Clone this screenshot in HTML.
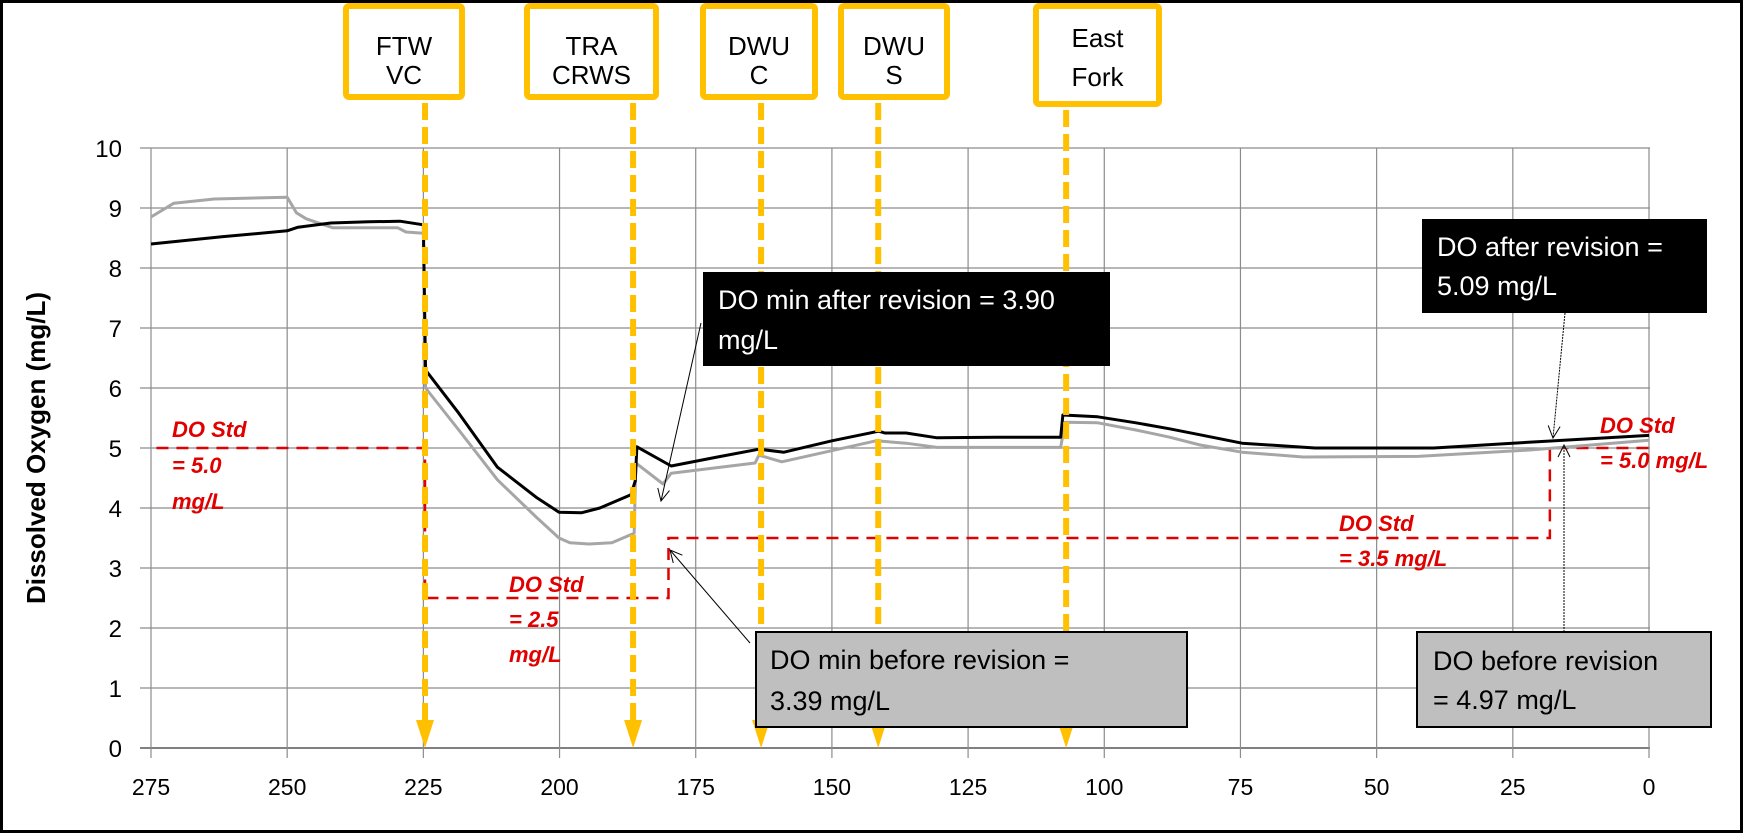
<!DOCTYPE html>
<html><head><meta charset="utf-8"><style>
html,body{margin:0;padding:0;background:#fff;}
svg{display:block;font-family:"Liberation Sans",Arial,sans-serif;}
</style></head><body>
<svg id="chart" width="1751" height="834" xmlns="http://www.w3.org/2000/svg">
<rect x="1.5" y="1.5" width="1740" height="830" fill="#fff" stroke="#000" stroke-width="3"/>
<g id="grid"></g>
<g id="std"></g>
<g id="series"></g>
<g id="stations"></g>
<g id="annot"></g>
<text x="0" y="0" transform="translate(45,448) rotate(-90)" text-anchor="middle" font-size="26" font-weight="bold">Dissolved Oxygen (mg/L)</text>
</svg>
<script>
const xTicks=[275,250,225,200,175,150,125,100,75,50,25,0];
const yTicks=[0,1,2,3,4,5,6,7,8,9,10];
const afterDist=[275,262,250,248,242,235,229.3,225,224.6,218.5,211.4,204.3,200.1,196,192.6,186.9,186.1,185.8,179.5,171,163.4,158.8,150,141.4,140.3,136.4,130.7,120,108,107.6,101.2,94.2,88,82.4,74.7,61.3,39.5,21.3,0];
const afterDO=[8.40,8.52,8.62,8.68,8.75,8.77,8.78,8.72,6.30,5.58,4.68,4.18,3.93,3.92,4.0,4.22,4.45,5.02,4.70,4.85,4.98,4.93,5.12,5.28,5.25,5.25,5.17,5.18,5.18,5.55,5.52,5.42,5.32,5.22,5.08,5.0,5.0,5.1,5.21];
const beforeDist=[275,270.8,263.4,250,248.3,246.5,241.6,229.7,228.2,225,224.6,218.5,211.4,204.3,200.1,198.1,194.6,190.4,186.3,186.0,181,179.5,164.1,163.4,159.2,141.9,136.4,130.7,108,107.2,101.2,94.2,88,82.4,74.7,63.5,42.4,21.3,0];
const beforeDO=[8.85,9.08,9.15,9.18,8.92,8.82,8.67,8.67,8.60,8.58,6.0,5.3,4.47,3.85,3.5,3.42,3.4,3.42,3.58,4.75,4.4,4.58,4.75,4.88,4.77,5.12,5.08,5.01,5.01,5.43,5.42,5.30,5.18,5.05,4.93,4.85,4.86,4.97,5.13];
const stdDist=[274,224.7,224.7,180,180,18.2,18.2,0];
const stdDO=[5.0,5.0,2.5,2.5,3.5,3.5,5.0,5.0];
const stationNames=[["FTW","VC"],["TRA","CRWS"],["DWU","C"],["DWU","S"],["East","Fork"]];
const stationDist=[224.7,186.5,163,141.5,107];

const NS="http://www.w3.org/2000/svg";
const X0=1649,XS=1498/275,Y0=748,YS=60;
const xs=v=>X0-v*XS, ys=v=>Y0-v*YS;
function mk(tag,attrs,parent,txt){const e=document.createElementNS(NS,tag);for(const k in attrs)e.setAttribute(k,attrs[k]);if(txt!==undefined)e.textContent=txt;parent.appendChild(e);return e;}
const grid=document.getElementById('grid');
yTicks.forEach(t=>{
  const l=mk('line',{x1:140,x2:1650,y1:ys(t),y2:ys(t),stroke:t===0?'#808080':'#8c8c8c','stroke-width':t===0?2:1.2},grid);
  
  
  const tx=mk('text',{x:122,y:ys(t)+9,'text-anchor':'end','font-size':24},grid,String(t));
  
  
});
xTicks.forEach(t=>{
  const l=mk('line',{x1:xs(t),x2:xs(t),y1:ys(10),y2:758,stroke:'#8c8c8c','stroke-width':1.2},grid);
  
  
  const tx=mk('text',{x:xs(t),y:795,'text-anchor':'middle','font-size':23},grid,String(t));
  
  
});
// standards
const stdG=document.getElementById('std');
const sp=mk('polyline',{points:stdDist.map((d,i)=>xs(d)+','+ys(stdDO[i])).join(' '),fill:'none',stroke:'#e00000','stroke-width':2.5,'stroke-dasharray':'12 8'},stdG);


// series
const sg=document.getElementById('series');
const pb=mk('polyline',{points:beforeDist.map((d,i)=>xs(d)+','+ys(beforeDO[i])).join(' '),fill:'none',stroke:'#a6a6a6','stroke-width':3,'stroke-linejoin':'round'},sg);


const pa=mk('polyline',{points:afterDist.map((d,i)=>xs(d)+','+ys(afterDO[i])).join(' '),fill:'none',stroke:'#000','stroke-width':3,'stroke-linejoin':'round'},sg);


// stations
const stG=document.getElementById('stations');
const boxes=[[343,465,100],[524,659,100],[700,818,100],[838,950,100],[1033,1162,107]];
stationDist.forEach((d,i)=>{
  const x=xs(d),b=boxes[i];
  const ln=mk('line',{x1:x,x2:x,y1:b[2]+3,y2:724,stroke:'#ffc000','stroke-width':6,'stroke-dasharray':'17 7'},stG);
  
  
  const ar=mk('polygon',{points:(x-9)+',720 '+(x+9)+',720 '+x+',748',fill:'#ffc000'},stG);
  
  
  const r=mk('rect',{x:b[0]+3,y:6,width:b[1]-b[0]-6,height:b[2]-9,rx:3,fill:'#fff',stroke:'#ffc000','stroke-width':6},stG);
  
  
  const cx=(b[0]+b[1])/2;
  const y1=i===4?47:55,y2=i===4?86:84;
  const t1=mk('text',{x:cx,y:y1,'text-anchor':'middle','font-size':26},stG,stationNames[i][0]);
  
  
  const t2=mk('text',{x:cx,y:y2,'text-anchor':'middle','font-size':26},stG,stationNames[i][1]);
  
  
});
</script>
<svg style="position:absolute;left:0;top:0" width="1751" height="834" xmlns="http://www.w3.org/2000/svg" font-family="Liberation Sans, Arial, sans-serif">
<defs><marker id="ah" markerWidth="14" markerHeight="14" refX="13" refY="7" orient="auto" markerUnits="userSpaceOnUse"><path d="M1,1 L13,7 L1,13" fill="none" stroke="#000" stroke-width="1"/></marker></defs>
<g fill="#e00000" font-weight="bold" font-style="italic" font-size="22">
<text><tspan x="172" y="437">DO Std</tspan><tspan x="172" y="473">= 5.0</tspan><tspan x="172" y="509">mg/L</tspan></text>
<text><tspan x="509" y="592">DO Std</tspan><tspan x="509" y="627">= 2.5</tspan><tspan x="509" y="662">mg/L</tspan></text>
<text><tspan x="1339" y="531">DO Std</tspan><tspan x="1339" y="566">= 3.5 mg/L</tspan></text>
<text><tspan x="1600" y="433">DO Std</tspan><tspan x="1600" y="468">= 5.0 mg/L</tspan></text>
</g>
<line x1="701" y1="323" x2="661" y2="501" stroke="#000" stroke-width="1" marker-end="url(#ah)"/>
<line x1="750" y1="643" x2="670" y2="550" stroke="#000" stroke-width="1" marker-end="url(#ah)"/>
<line x1="1565" y1="313" x2="1553" y2="438" stroke="#000" stroke-width="1" stroke-dasharray="2 1" marker-end="url(#ah)"/>
<line x1="1564" y1="632" x2="1564" y2="445" stroke="#000" stroke-width="1" stroke-dasharray="2 1" marker-end="url(#ah)"/>
<g>
<rect x="703" y="272" width="407" height="94" fill="#000"/>
<text fill="#fff" font-size="27"><tspan x="718" y="309">DO min after revision = 3.90</tspan><tspan x="718" y="349">mg/L</tspan></text>
</g>
<g>
<rect x="756" y="632" width="431" height="95" fill="#bfbfbf" stroke="#000" stroke-width="2"/>
<text fill="#000" font-size="27"><tspan x="770" y="669">DO min before revision =</tspan><tspan x="770" y="710">3.39 mg/L</tspan></text>
</g>
<g>
<rect x="1422" y="219" width="285" height="94" fill="#000"/>
<text fill="#fff" font-size="27"><tspan x="1437" y="256">DO after revision =</tspan><tspan x="1437" y="295">5.09 mg/L</tspan></text>
</g>
<g>
<rect x="1417" y="632" width="294" height="95" fill="#bfbfbf" stroke="#000" stroke-width="2"/>
<text fill="#000" font-size="27"><tspan x="1433" y="670">DO before revision</tspan><tspan x="1433" y="709">= 4.97 mg/L</tspan></text>
</g>
</svg>
</body></html>
